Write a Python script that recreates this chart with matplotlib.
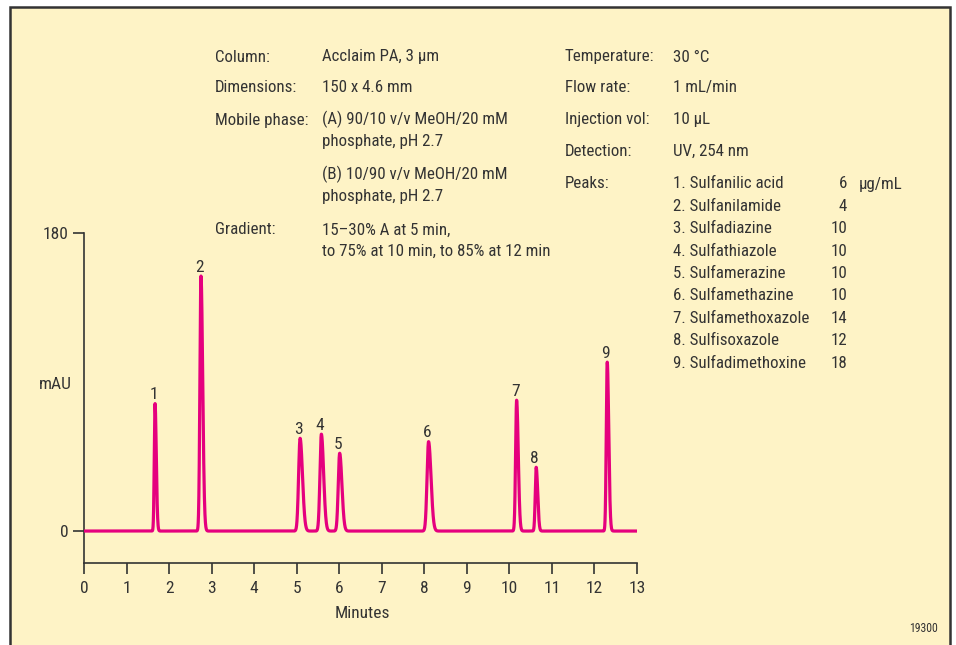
import matplotlib.pyplot as plt
import numpy as np
from matplotlib.patches import Rectangle

# peak table
peak_ids = [1, 2, 3, 4, 5, 6, 7, 8, 9]
peak_times = [1.67, 2.75, 5.08, 5.58, 6.01, 8.10, 10.17, 10.63, 12.30]   # min
peak_heights = [77, 154, 56, 58.5, 47, 54, 79, 38.5, 102]                 # mAU
peak_sigmas = [0.018, 0.025, 0.035, 0.033, 0.033, 0.036, 0.024, 0.022, 0.022]

compounds = ["Sulfanilic acid", "Sulfanilamide", "Sulfadiazine", "Sulfathiazole",
             "Sulfamerazine", "Sulfamethazine", "Sulfamethoxazole", "Sulfisoxazole",
             "Sulfadimethoxine"]
concs = [6, 4, 10, 10, 10, 10, 14, 12, 18]

x_ticks = list(range(0, 14))
y_ticks = [0, 180]

BG = '#FEF3C6'
INK = '#333333'
LINE = '#E5007E'

plt.rcParams['font.family'] = ['Roboto Condensed', 'Archivo Narrow', 'DejaVu Sans']
FS = 12.5
FS_TXT = 12.2

W, H = 956, 645
fig = plt.figure(figsize=(W / 100, H / 100), dpi=100, facecolor='white')

# yellow panel with dark frame (behind everything)
panel = Rectangle((10 / W, -0.05), 940 / W, 1.05 - 7 / H,
                  transform=fig.transFigure, facecolor=BG,
                  edgecolor=INK, linewidth=1.8, zorder=-10)
fig.patches.append(panel)

ax = fig.add_axes([84 / W, 1 - 563 / H, 553 / W, 330 / H])
ax.set_facecolor('none')
ax.set_zorder(2)

t = np.linspace(0, 13, 6000)
signal = np.zeros_like(t)
for t0, h, s in zip(peak_times, peak_heights, peak_sigmas):
    # slight tailing: wider on the right side
    sig = np.where(t < t0, s, s * 1.6)
    signal += h * np.exp(-0.5 * ((t - t0) / sig) ** 2)

ax.plot(t, signal, color=LINE, lw=2.3, solid_capstyle='round', zorder=3)

for pid, t0, h in zip(peak_ids, peak_times, peak_heights):
    ax.annotate(str(pid), (t0, h), xytext=(-1, 3), textcoords='offset points',
                ha='center', va='baseline', fontsize=FS, color=INK)

ax.set_xlim(0, 13)
ax.set_ylim(-19.3, 180)
ax.set_xticks(x_ticks)
ax.set_yticks(y_ticks)
ax.spines['top'].set_visible(False)
ax.spines['right'].set_visible(False)
for sp in ['left', 'bottom']:
    ax.spines[sp].set_color(INK)
    ax.spines[sp].set_linewidth(1.2)
ax.tick_params(axis='both', direction='out', length=8, width=1.2, colors=INK,
               labelsize=FS, labelcolor=INK)
ax.tick_params(axis='x', pad=5)
ax.tick_params(axis='y', pad=3)

fig.text(55 / W, 1 - 385 / H, 'mAU', ha='center', va='center', fontsize=FS, color=INK)
fig.text(362 / W, 1 - 614 / H, 'Minutes', ha='center', va='center', fontsize=FS, color=INK)
fig.text(938 / W, 1 - 628 / H, '19300', ha='right', va='center', fontsize=8.5, color=INK)


def put(xp, yp, s, ha='left'):
    fig.text(xp / W, 1 - yp / H, s, ha=ha, va='baseline', fontsize=FS_TXT, color=INK)


# conditions block, left half
left_labels = [("Column:", 61.5), ("Dimensions:", 92), ("Mobile phase:", 124.5),
               ("Gradient:", 234.5)]
left_values = [("Acclaim PA, 3 \u00b5m", 61.5), ("150 x 4.6 mm", 92),
               ("(A) 90/10 v/v MeOH/20 mM", 124.5), ("phosphate, pH 2.7", 146),
               ("(B) 10/90 v/v MeOH/20 mM", 179.5), ("phosphate, pH 2.7", 201),
               ("15\u201330% A at 5 min,", 234.5),
               ("to 75% at 10 min, to 85% at 12 min", 255.5)]
for s, yp in left_labels:
    put(215, yp, s)
for s, yp in left_values:
    put(322, yp, s)

# conditions block, right half
right_labels = [("Temperature:", 61.5), ("Flow rate:", 92), ("Injection vol:", 124),
                ("Detection:", 156), ("Peaks:", 188.5)]
right_values = [("30 \u00b0C", 61.5), ("1 mL/min", 92), ("10 \u00b5L", 124),
                ("UV, 254 nm", 156)]
for s, yp in right_labels:
    put(565, yp, s)
for s, yp in right_values:
    put(673, yp, s)

for i, (pid, name, c) in enumerate(zip(peak_ids, compounds, concs)):
    yp = 188.5 + 22.4 * i
    put(673, yp, f"{pid}. {name}")
    put(847, yp, str(c), ha='right')
put(859, 188.5, "\u00b5g/mL")

fig.savefig('out.png', dpi=100, facecolor=fig.get_facecolor())
